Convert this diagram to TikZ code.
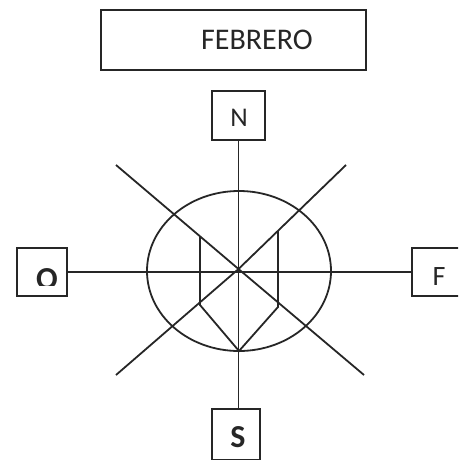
\documentclass[tikz,border=0pt]{standalone}
\usepackage{fontspec}
\setmainfont{Carlito}
\begin{document}
\begin{tikzpicture}[x=1pt,y=-1pt,
  box/.style={draw=black!85,line width=1.8pt,rectangle,inner sep=0pt,anchor=north west},
  ln/.style={draw=black!85,line width=1.8pt},
  lbl/.style={inner sep=0pt,text=black!85,anchor=base}]
\useasboundingbox (0,0) rectangle (458,460);
\clip (0,0) rectangle (458,460);
% boxes
\node[box,minimum width=265pt,minimum height=60pt] (feb) at (100,9) {};
\node[lbl,font=\fontsize{30}{36}\selectfont] (febt) at (257,50) {FEBRERO};
\node[box,minimum width=53pt,minimum height=49pt] (N) at (211,90) {};
\node[lbl,font=\fontsize{27}{32}\selectfont] (Nt) at (239,126) {N};
\node[box,minimum width=50pt,minimum height=48pt] (O) at (16,247) {};
\begin{scope}
\clip (16,247) rectangle (66,285);
\node[lbl,font=\bfseries\fontsize{32}{38}\selectfont] (Ot) at (47,289) {O};
\end{scope}
\node[box,minimum width=60pt,minimum height=48pt] (F) at (411,247) {};
\node[lbl,font=\fontsize{28}{32}\selectfont] (Ft) at (439,285) {F};
\node[box,minimum width=48pt,minimum height=51pt] (S) at (211,408) {};
\node[lbl,font=\bfseries\fontsize{32}{36}\selectfont] (St) at (238,447) {S};
% axes
\coordinate (C) at (238.5,269);
\draw[ln] (N.south -| C) -- (S.north -| C);
\draw[ln] (O.east) -- (F.west |- O.east);
% ellipse
\draw[ln] (239,271) ellipse [x radius=92, y radius=80];
% diagonals
\coordinate (tl) at (116,165);
\coordinate (br) at (364,375);
\coordinate (tr) at (346,165);
\coordinate (bl) at (116,375);
\draw[ln] (tl) -- (C) -- (br);
\draw[ln] (tr) -- (C) -- (bl);
% inner shape
\coordinate (a1) at (200,237);
\coordinate (a2) at (200,305);
\coordinate (b1) at (278,231);
\coordinate (b2) at (278,307);
\coordinate (bot) at (239,351);
\draw[ln] (a1) -- (a2) -- (bot) -- (b2) -- (b1);
\end{tikzpicture}
\end{document}
